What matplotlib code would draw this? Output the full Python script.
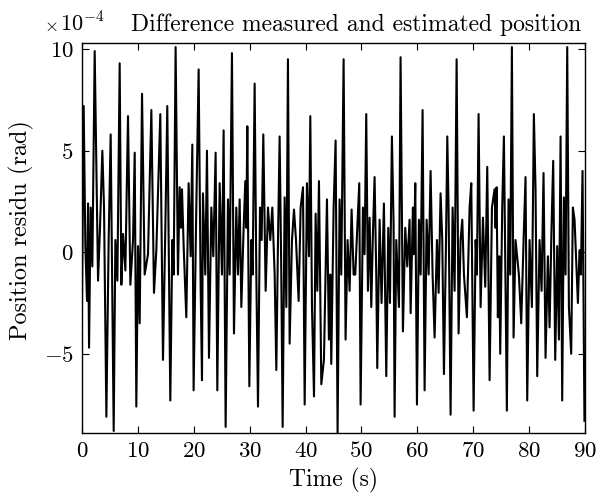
import matplotlib
matplotlib.use("Agg")
import matplotlib.pyplot as plt

# residual between measured and estimated position, in units of 1e-4 rad
# (extrema, one row per ~5 s)
time_s = [
    0.0, 0.3, 0.6, 0.9, 1.08, 1.26, 1.55, 1.85, 2.27, 2.87, 3.22, 3.64, 3.94, 4.36, 4.77,
    5.13, 5.67, 5.97, 6.33, 6.74, 7.04, 7.34, 7.76, 8.23, 8.65, 9.13, 9.43, 9.72,
    10.02, 10.32, 10.74, 11.21, 11.81, 12.41, 12.88, 13.30, 13.71, 14.01, 14.49, 14.91,
    15.26, 15.56, 15.80, 16.16, 16.40, 16.75, 17.17, 17.47, 17.71, 17.89, 18.19, 18.66, 19.08, 19.44, 19.74, 19.97,
    20.45, 20.87, 21.23, 21.47, 21.64, 22.06, 22.36, 22.72, 23.14, 23.49, 23.91, 24.21, 24.63,
    25.04, 25.34, 25.70, 26.12, 26.42, 26.83, 27.19, 27.61, 27.91, 28.21, 28.51, 28.92, 29.22, 29.40, 29.58, 29.94,
    30.30, 30.53, 30.89, 31.19, 31.49, 31.85, 32.14, 32.44, 32.86, 33.28, 33.69, 34.05, 34.47, 34.77,
    35.07, 35.36, 35.66, 35.90, 36.26, 36.56, 36.85, 37.15, 37.57, 37.93, 38.29, 38.76, 39.12, 39.54, 39.84,
    40.25, 40.61, 40.85, 41.15, 41.51, 41.80, 42.10, 42.40, 42.82, 43.29, 43.83, 44.18, 44.42, 44.60,
    45.02, 45.38, 45.73, 46.09, 46.39, 46.81, 47.16, 47.52, 47.88, 48.24, 48.60, 48.89, 49.61, 49.85,
    50.27, 50.56, 50.86, 51.16, 51.46, 51.76, 52.05, 52.35, 52.65, 52.83, 53.25, 53.60, 54.02, 54.44, 54.80,
    55.10, 55.45, 55.75, 55.93, 56.23, 56.71, 57.00, 57.42, 57.84, 58.20, 58.61, 58.80, 59.21, 59.39, 59.63, 59.93,
    60.29, 60.59, 60.94, 61.30, 61.66, 62.02, 62.37, 62.73, 63.09, 63.51, 63.81, 64.16, 64.46, 64.76,
    65.12, 65.36, 65.59, 65.95, 66.31, 66.67, 67.03, 67.38, 67.74, 68.04, 68.34, 68.87, 69.35, 69.65,
    70.07, 70.43, 70.66, 70.96, 71.32, 71.74, 72.15, 72.51, 72.93, 73.35, 73.82, 74.00, 74.18, 74.41, 74.65, 74.83,
    75.19, 75.49, 75.79, 76.02, 76.32, 76.62, 76.92, 77.22, 77.57, 78.17, 78.59, 79.01, 79.36, 79.66,
    80.08, 80.50, 80.85, 81.15, 81.45, 81.87, 82.23, 82.58, 82.94, 83.36, 83.66, 84.01, 84.31, 84.67,
    85.03, 85.33, 85.63, 85.92, 86.22, 86.52, 86.82, 87.12, 87.53, 87.83, 88.13, 88.73, 89.02, 89.26, 89.56, 89.9,
]
residu = [
    -2.5, 7.2, 0.3, -2.4, 2.4, -4.7, 2.2, -0.7, 9.9, -1.4, 1.2, 5.0, 2.2, -8.1, 0.6,
    5.8, -8.8, 0.6, -1.4, 9.3, -1.6, 0.9, -0.9, 6.7, -1.6, 0.6, 4.9, -7.6,
    0.3, -3.5, 7.8, -1.1, -0.1, 7.0, -2.0, 0.1, 3.9, 6.8, -5.3, 1.2,
    7.2, -1.1, -7.3, 0.6, -1.1, 10.1, -1.1, 3.2, 1.2, 3.1, 0.3, -3.2, 3.4, -0.2, 5.3, -6.8,
    2.2, 9.0, -1.7, -6.3, 2.9, -1.1, 5.0, -5.2, 2.2, -0.2, 4.9, -6.8, 3.4,
    -1.1, 6.0, -8.6, 2.6, -1.1, 9.8, -4.0, 2.2, -1.1, 2.6, -2.7, 1.2, 3.5, 1.2, 6.2, -6.6,
    0.6, -1.1, 8.3, -1.1, -7.6, 2.2, 0.6, 5.8, -1.9, 2.2, 0.6, 2.2, -1.1, -5.8,
    0.6, 5.7, -1.1, -8.6, 2.7, -2.7, 9.5, -4.5, 0.6, 2.1, 0.6, -2.4, 2.2, 3.2, -7.5,
    3.4, -0.2, 6.7, -2.7, -7.1, 1.9, -1.9, 3.5, -6.5, -5.3, 2.6, -4.3, -1.1, -5.5,
    2.2, 5.5, -8.9, 2.6, -1.1, 9.5, -4.3, 0.6, -1.9, 2.1, -1.1, -1.1, 3.4, -7.5,
    2.2, -0.1, 6.8, -1.9, 1.7, -2.7, 0.9, 3.7, -1.1, -5.7, 1.6, -2.5, 2.4, -6.1, 1.2,
    -2.5, 5.7, 1.4, -8.1, 0.6, -2.7, 9.6, -3.9, 1.2, -0.7, 1.6, -3.0, 2.2, -0.1, 3.4, -7.5,
    1.6, -1.1, 7.0, -6.8, 1.6, -1.1, 4.0, -1.1, -4.2, 0.6, -2.0, 2.9, 0.6, -6.0,
    0.3, 5.7, 2.2, -8.0, 2.2, -1.9, 9.5, -4.0, 0.6, 1.6, -1.1, -3.2, 2.2, 3.4,
    -7.8, 0.6, -1.1, 6.8, -2.7, 1.7, -1.7, 4.2, -6.3, 2.2, 3.1, 1.2, 3.2, -3.2, -0.2, -5.0,
    2.2, 5.7, -1.9, -7.8, 2.6, -1.1, 10.1, -4.2, 0.6, -1.1, -3.5, 0.6, 3.7, -7.3,
    0.6, -2.7, 6.8, 3.1, -6.1, 0.6, -1.9, 3.9, -5.2, -0.2, -3.7, 1.2, 4.5, -5.3,
    0.3, -4.3, 5.7, -7.3, 2.7, -1.1, 10.1, -2.7, -5.0, 2.2, 1.6, -2.5, 0.1, -1.1, 4.0, -8.3,
]

x_ticks = [0, 10, 20, 30, 40, 50, 60, 70, 80, 90]
y_ticks = [-5, 0, 5, 10]

plt.rcParams['font.family'] = 'cmr10'
plt.rcParams['mathtext.fontset'] = 'cm'
plt.rcParams['axes.formatter.use_mathtext'] = True
plt.rcParams['axes.unicode_minus'] = True

fig = plt.figure(figsize=(6, 4.94), dpi=100)
ax = fig.add_axes([82 / 600, 1 - 433 / 494, 503 / 600, 390 / 494])

ax.plot(time_s, residu, color='black', linewidth=1.5)

ax.set_xlim(0, 90)
ax.set_ylim(-8.9, 10.3)
ax.set_xticks(x_ticks)
ax.set_yticks(y_ticks)
ax.tick_params(direction='in', top=True, right=True, length=5, labelsize=16.5, pad=6)
for s in ax.spines.values():
    s.set_linewidth(1.0)

# axis labels, placed like the MATLAB export
fig.text(333 / 600, 1 - 480 / 494, 'Time (s)', fontsize=17, ha='center', va='center')
fig.text(21 / 600, 1 - 230 / 494, 'Position residu (rad)', fontsize=17.5,
         rotation=90, ha='center', va='center')

# exponent shown separately from the title, as in the original
fig.text(44 / 600, 1 - 31 / 494, r'$\times$', fontsize=13, ha='left', va='baseline')
fig.text(60 / 600, 1 - 31 / 494, r'$10^{-4}$', fontsize=16, ha='left', va='baseline')
fig.text(356 / 600, 1 - 31 / 494, 'Difference measured and estimated position',
         fontsize=17, ha='center', va='baseline')

fig.savefig('out.png', dpi=100)
